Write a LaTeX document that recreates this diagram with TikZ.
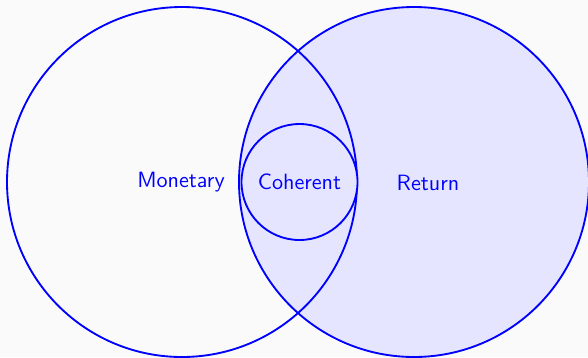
\documentclass[tikz,border=0pt]{standalone}
\usepackage{tikz}
\usepackage{xcolor}
\definecolor{setline}{HTML}{0000FF}
\definecolor{setfill}{HTML}{E5E5FF}
\definecolor{paper}{HTML}{FAFAFA}
\begin{document}
\begin{tikzpicture}[x=0.017cm,y=-0.017cm,line width=0.9pt]
\def\R{175}
\def\r{58}
\tikzset{setname/.style={text=setline,font=\sffamily\fontsize{10.7}{13}\selectfont}}
\fill[paper] (0,0) rectangle (588,357);
\useasboundingbox (0,0) rectangle (588,357);
% the two big sets
\fill[setfill] (414,182) circle (\R);
\draw[setline] (182,182) circle (\R);
\draw[setline] (414,182) circle (\R);
% coherent inside both
\filldraw[setline,fill=setfill] (299.5,182) circle (\r);
\node[setname] (monetary) at (181,182) {Monetary};
\node[setname] (coherent) at (299.5,182) {Coherent};
\node[setname] (return) at (428,183) {Return};
\end{tikzpicture}
\end{document}
